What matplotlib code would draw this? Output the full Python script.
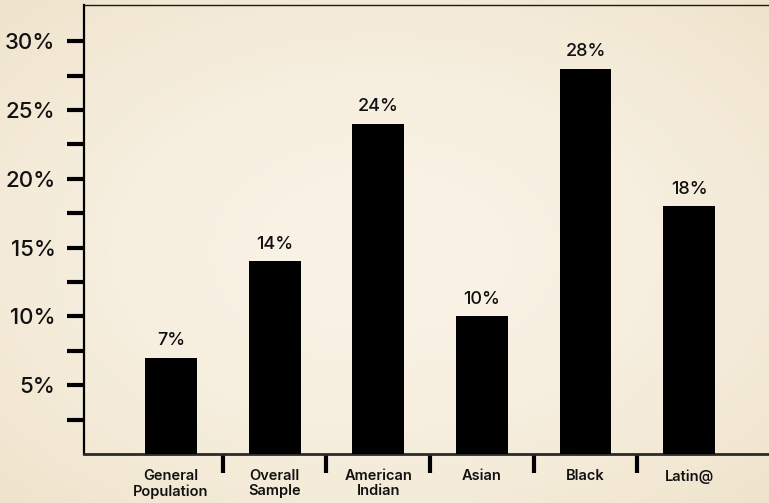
import numpy as np
import matplotlib
matplotlib.use("Agg")
import matplotlib.pyplot as plt
from matplotlib.ticker import FixedLocator, NullFormatter

plt.rcParams['font.family'] = ['Inter', 'DejaVu Sans']

# Share of each group (percent)
categories = ["General\nPopulation", "Overall\nSample", "American\nIndian", "Asian", "Black", "Latin@"]
values = [7, 14, 24, 10, 28, 18]
value_labels = ["7%", "14%", "24%", "10%", "28%", "18%"]
ytick_values = [5, 10, 15, 20, 25, 30]
ytick_labels = ["5%", "10%", "15%", "20%", "25%", "30%"]

fig = plt.figure(figsize=(7.69, 5.03), dpi=100)

# parchment backdrop: warm centre fading to slightly darker edges
bg = fig.add_axes([0, 0, 1, 1])
yy, xx = np.mgrid[-1:1:300j, -1:1:460j]
r = np.sqrt(xx**2 + yy**2) / np.sqrt(2)
light = np.array([249, 243, 230]) / 255
dark = np.array([239, 227, 203]) / 255
t = np.clip(r**1.8, 0, 1)[..., None]
bg.imshow(light * (1 - t) + dark * t, aspect='auto', extent=[0, 1, 0, 1],
          interpolation='bilinear')
bg.set_axis_off()

ax = fig.add_axes([84 / 769, 1 - 454 / 503, 1 - 84 / 769, 449 / 503])
ax.patch.set_alpha(0)

x = np.arange(len(categories))
ax.bar(x, values, width=0.5, color='black', zorder=3)
for xi, v, lab in zip(x, values, value_labels):
    ax.annotate(lab, (xi, v), xytext=(0, 6), textcoords='offset points',
                ha='center', va='bottom', fontsize=13, fontweight='medium',
                color='#111111')

ax.set_xlim(-0.84, 5.77)
ax.set_ylim(0, 32.63)

ax.spines['right'].set_visible(False)
ax.spines['top'].set_linewidth(1.0)
ax.spines['top'].set_color('#1a1a1a')
ax.spines['left'].set_linewidth(1.6)
ax.spines['left'].set_color('#000000')
ax.spines['bottom'].set_linewidth(2.0)
ax.spines['bottom'].set_color('#2a2a2a')

# y: labelled ticks every 5%, unlabelled in between
ax.yaxis.set_major_locator(FixedLocator(ytick_values))
ax.set_yticklabels(ytick_labels, fontsize=16, fontweight='medium', color='#111111')
ax.yaxis.set_minor_locator(FixedLocator([2.5, 7.5, 12.5, 17.5, 22.5, 27.5]))
ax.tick_params(axis='y', which='both', direction='out', length=12.5, width=3,
               color='black', pad=8)

# x: separator ticks between bars, names under bars
ax.xaxis.set_major_locator(FixedLocator(x[:-1] + 0.5))
ax.xaxis.set_major_formatter(NullFormatter())
ax.xaxis.set_minor_locator(FixedLocator(x))
ax.set_xticklabels(categories, minor=True, fontsize=10.5, fontweight='semibold',
                   color='#111111', linespacing=1.1)
ax.tick_params(axis='x', which='major', direction='out', length=13.5, width=3,
               color='black')
ax.tick_params(axis='x', which='minor', length=0, pad=11)

fig.savefig("out.png", dpi=100)
